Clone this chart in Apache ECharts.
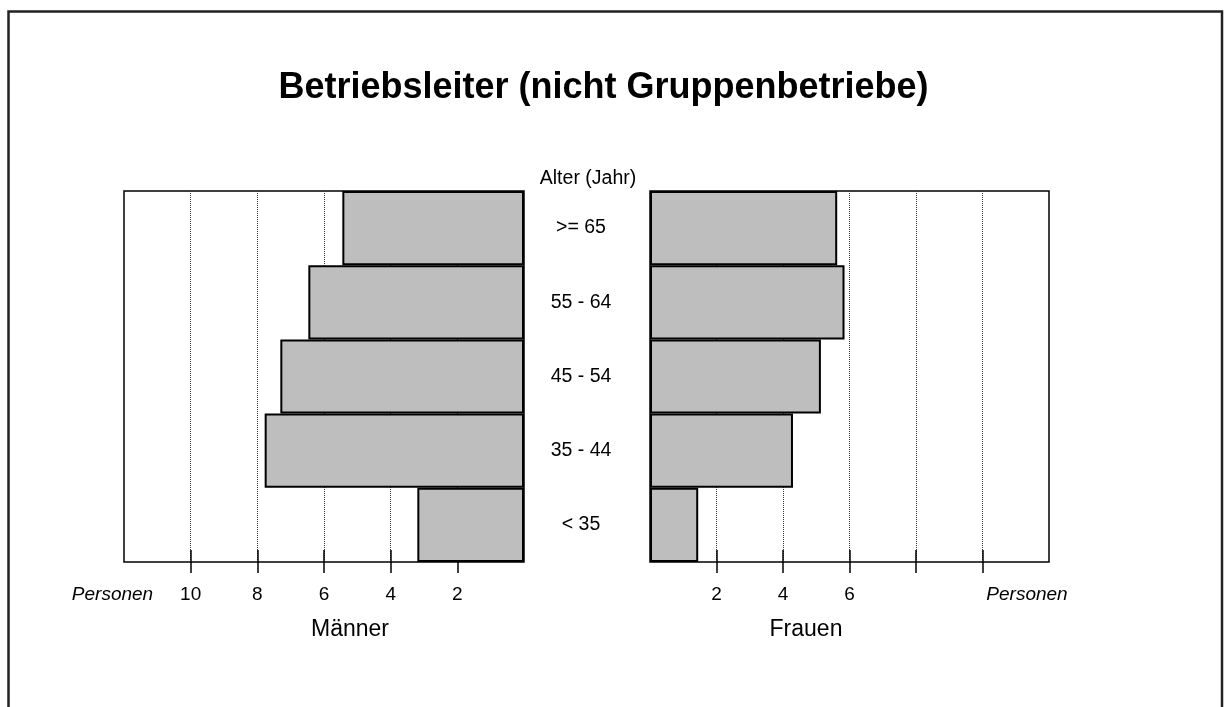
<!DOCTYPE html>
<html>
<head>
<meta charset="utf-8">
<script src="https://cdn.jsdelivr.net/npm/echarts@6/dist/echarts.min.js"></script>
<style>
html,body{margin:0;padding:0;background:#fff;}
#chart{width:1224px;height:707px;}
</style>
</head>
<body>
<div id="chart"></div>
<script>
// Altersklassen, von unten nach oben
var ages = ['< 35', '35 - 44', '45 - 54', '55 - 64', '>= 65'];
var maenner = [3.2, 7.78, 7.31, 6.47, 5.45];
var frauen = [1.45, 4.3, 5.14, 5.85, 5.63];
var xTicks = [0, 2, 4, 6, 8, 10, 12];
var tickMarks = [2, 4, 6, 8, 10];
var leftLabels = ['', '2', '4', '6', '8', '10', ''];
var rightLabels = ['', '2', '4', '6', '', '', ''];

var font = '"Liberation Sans", Arial, sans-serif';
var black = '#000';

function outerAxis(grid, inv, labels){
	return {
		gridIndex: grid, type: 'value', position: 'bottom',
		min: 0, max: 12, interval: 2, inverse: inv,
		axisLine: {show: false},
		axisTick: {show: true, inside: false, length: 11, customValues: tickMarks, lineStyle: {color: black, width: 1.5}},
		axisLabel: {
			margin: 23, fontSize: 19, color: black, fontFamily: font,
			formatter: function(v){ var i = xTicks.indexOf(v); return i < 0 ? '' : labels[i]; }
		},
		splitLine: {show: true, lineStyle: {type: 'dotted', color: '#333', width: 1}}
	};
}
function innerAxis(grid, inv){
	return {
		gridIndex: grid, type: 'value', position: 'bottom',
		min: 0, max: 12, interval: 2, inverse: inv,
		axisLine: {show: false},
		axisTick: {show: true, inside: true, length: 12, customValues: tickMarks, lineStyle: {color: black, width: 1.5}},
		axisLabel: {show: false},
		splitLine: {show: false}
	};
}

var chart = echarts.init(document.getElementById('chart'), null, {renderer: 'canvas'});
var option = {
	backgroundColor: '#fff',
	animation: false,
	grid: [
		{left: 124, right: 700, top: 191, bottom: 145, show: true, borderColor: black, borderWidth: 1.5, backgroundColor: '#fff', containLabel: false, outerBoundsMode: 'none'},
		{left: 650, right: 175, top: 191, bottom: 145, show: true, borderColor: black, borderWidth: 1.5, backgroundColor: '#fff', containLabel: false, outerBoundsMode: 'none'}
	],
	xAxis: [
		outerAxis(0, true, leftLabels),
		innerAxis(0, true),
		outerAxis(1, false, rightLabels),
		innerAxis(1, false)
	],
	yAxis: [
		{
			gridIndex: 0, type: 'category', data: ages, position: 'right',
			axisLine: {show: false}, axisTick: {show: false},
			axisLabel: {align: 'center', margin: 57, fontSize: 19.5, color: black, fontFamily: font},
			splitLine: {show: false}
		},
		{
			gridIndex: 1, type: 'category', data: ages,
			axisLine: {show: false}, axisTick: {show: false},
			axisLabel: {show: false}, splitLine: {show: false}
		}
	],
	series: [
		{
			name: 'Männer', type: 'bar', xAxisIndex: 0, yAxisIndex: 0,
			data: maenner, barWidth: '100%',
			itemStyle: {color: '#bebebe', borderColor: black, borderWidth: 2}
		},
		{
			name: 'Frauen', type: 'bar', xAxisIndex: 2, yAxisIndex: 1,
			data: frauen, barWidth: '100%',
			itemStyle: {color: '#bebebe', borderColor: black, borderWidth: 2}
		}
	],
	graphic: [
		{type: 'rect', silent: true, shape: {x: 8.5, y: 11.5, width: 1213.5, height: 760},
			style: {fill: 'none', stroke: '#222', lineWidth: 2.5}},
		{type: 'text', x: 603.5, y: 88.5, style: {text: 'Betriebsleiter (nicht Gruppenbetriebe)', fontSize: 36, fontWeight: 'bold', fontFamily: font, fill: black, textAlign: 'center', textVerticalAlign: 'middle'}},
		{type: 'text', x: 588, y: 179, style: {text: 'Alter (Jahr)', fontSize: 19.5, fontFamily: font, fill: black, textAlign: 'center', textVerticalAlign: 'middle'}},
		{type: 'text', x: 112.5, y: 594.5, style: {text: 'Personen', fontSize: 19, fontStyle: 'italic', fontFamily: font, fill: black, textAlign: 'center', textVerticalAlign: 'middle'}},
		{type: 'text', x: 1027, y: 594.5, style: {text: 'Personen', fontSize: 19, fontStyle: 'italic', fontFamily: font, fill: black, textAlign: 'center', textVerticalAlign: 'middle'}},
		{type: 'text', x: 350, y: 630, style: {text: 'Männer', fontSize: 23, fontFamily: font, fill: black, textAlign: 'center', textVerticalAlign: 'middle'}},
		{type: 'text', x: 806, y: 630, style: {text: 'Frauen', fontSize: 23, fontFamily: font, fill: black, textAlign: 'center', textVerticalAlign: 'middle'}}
	]
};
chart.setOption(option);
</script>
</body>
</html>
